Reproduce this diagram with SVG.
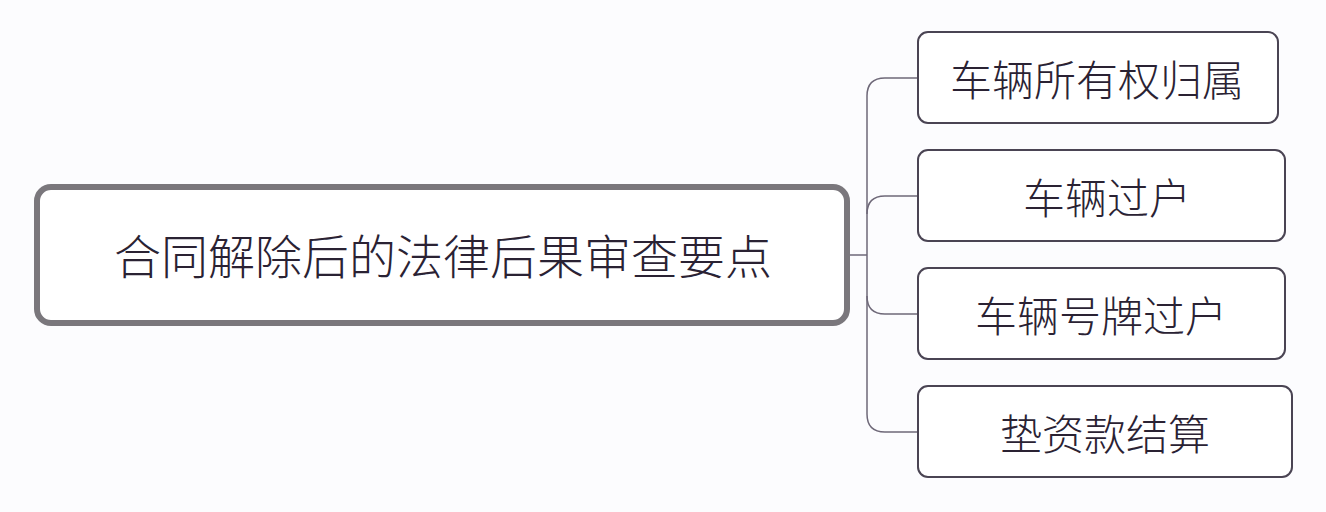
<svg xmlns="http://www.w3.org/2000/svg" width="1326" height="512" viewBox="0 0 1326 512">
<style>
.n{fill:#fff;stroke:#4a4453;stroke-width:2}
.t{font-family:"Noto Sans CJK SC",sans-serif;font-weight:300;fill:#2a2233;text-anchor:middle;dominant-baseline:central}
.c{fill:none;stroke:#6e6878;stroke-width:1.5}
</style>
<rect width="1326" height="512" fill="#fcfcfe"/>
<g id="connectors">
<path class="c" d="M848 255 H867"/>
<path class="c" d="M918 78 H885 Q867 78 867 96 V414 Q867 432 885 432 H918"/>
<path class="c" d="M918 196 H885 Q867 196 867 214"/>
<path class="c" d="M918 314 H885 Q867 314 867 296"/>
</g>
<g id="root"><rect x="37" y="187" width="810" height="136" rx="14" fill="#fff" stroke="#7a777c" stroke-width="6"/><text class="t" x="443" y="253" font-size="47">合同解除后的法律后果审查要点</text></g>
<g id="n1"><rect class="n" x="918" y="32" width="360" height="91" rx="10"/><text class="t" x="1097" y="77" font-size="42">车辆所有权归属</text></g>
<g id="n2"><rect class="n" x="918" y="150" width="367" height="91" rx="10"/><text class="t" x="1107" y="195" font-size="42">车辆过户</text></g>
<g id="n3"><rect class="n" x="918" y="268" width="367" height="91" rx="10"/><text class="t" x="1101" y="313" font-size="42">车辆号牌过户</text></g>
<g id="n4"><rect class="n" x="918" y="386" width="374" height="91" rx="10"/><text class="t" x="1105" y="431" font-size="42">垫资款结算</text></g>
</svg>
